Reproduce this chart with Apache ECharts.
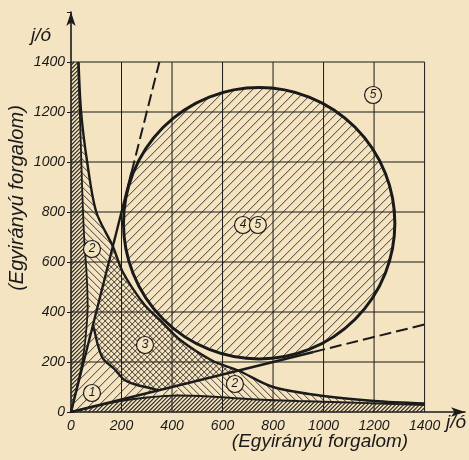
<!DOCTYPE html>
<html><head><meta charset="utf-8">
<script src="https://cdn.jsdelivr.net/npm/echarts@6/dist/echarts.min.js"></script>
<style>html,body{margin:0;background:#f4e4c1}#c{width:469px;height:460px}</style>
</head><body><div id="c"></div>
<script>
// ---- data (j/ó, both axes) ----
const xTicks = [0, 200, 400, 600, 800, 1000, 1200, 1400];
const yTicks = [0, 200, 400, 600, 800, 1000, 1200, 1400];

// big circle (zone 4-5): centre x, centre y, radius
const circleData = [[745, 755, 540]];

// outer boundary curve of zone 2 / zone 3
const hOuter = [[30,1400],[40,1200],[64,1000],[100,800],[166,662],[205,560],[290,430],[360,360],
                [430,290],[560,205],[662,166],[800,100],[1000,64],[1200,44],[1400,34]];
// inner curve (zone 1 / zone 3)
const innerCurve = [[87,348],[95,316],[108,262],[128,212],[172,172],[212,128],[262,108],[316,95],[348,87]];
// straight rays from the origin
const steepSolid = [[0,0],[240,960]];
const steepDashed = [[240,960],[350,1400]];
const flatSolid = [[0,0],[960,240]];
const flatDashed = [[960,240],[1400,350]];
// narrow strips along the axes
const stripLeft = [[0,0],[12,50],[28,120],[45,200],[58,300],[66,420],[62,550],[52,700],[44,900],[38,1100],[33,1250],[28,1400]];
const stripBottom = [[0,0],[50,12],[120,28],[200,45],[300,58],[420,66],[550,62],[700,52],[900,44],[1100,38],[1250,33],[1400,28]];
// zone outlines (disjoint)
const zone1 = stripLeft.slice(0,6).concat([[105,420]], innerCurve, [[420,105]], stripBottom.slice(0,6).reverse());
const zone2Left = [[105,420]].concat(hOuter.slice(0,5).reverse(), stripLeft.slice(5).reverse());
const zone2Bottom = [[420,105]].concat(hOuter.slice(10), stripBottom.slice(5).reverse());
const zone3 = [[87,348]].concat(hOuter.slice(4,11), innerCurve.slice().reverse());
const zoneStripLeft = stripLeft.concat([[0,1400]]);
const zoneStripBottom = stripBottom.concat([[1400,0]]);

// circled zone numbers
const zoneLabels = [
  {name:'5', value:[1196,1268]},
  {name:'4', value:[681,748]},
  {name:'5', value:[740,748]},
  {name:'2', value:[83,652]},
  {name:'3', value:[293,268]},
  {name:'1', value:[83,76]},
  {name:'2', value:[649,112]}
];

// ---- styling helpers ----
const BG = '#f4e4c1', INK = '#1a1a1a', HATCH = '#2d2823';
const F = "'Liberation Sans','DejaVu Sans',sans-serif";

// hatch a pixel-space polygon with diagonal line segments ('/' and/or '\')
function hatchGroup(pts, sp, dirs, lw, z2, withFill) {
  const children = withFill ? [{type:'polygon', z2:z2, shape:{points:pts}, style:{fill:BG, stroke:null}}] : [];
  dirs.split('').forEach(d => {
    const f = d === '/' ? (p => p[0] + p[1]) : (p => p[0] - p[1]);
    let mn = Infinity, mx = -Infinity;
    pts.forEach(p => { const v = f(p); if (v < mn) mn = v; if (v > mx) mx = v; });
    for (let c = Math.ceil(mn / sp) * sp + 0.25; c < mx; c += sp) {
      const xs = [];
      for (let i = 0; i < pts.length; i++) {
        const a = pts[i], b = pts[(i + 1) % pts.length];
        const fa = f(a) - c, fb = f(b) - c;
        if ((fa < 0) !== (fb < 0)) { const t = fa / (fa - fb); xs.push([a[0] + t * (b[0] - a[0]), a[1] + t * (b[1] - a[1])]); }
      }
      xs.sort((p, q) => p[0] - q[0]);
      for (let k = 0; k + 1 < xs.length; k += 2)
        children.push({type:'line', z2:z2 + 1, shape:{x1:xs[k][0], y1:xs[k][1], x2:xs[k+1][0], y2:xs[k+1][1]},
          style:{stroke:HATCH, lineWidth:lw}});
    }
  });
  return {type:'group', children:children};
}

const regionPolys = [zone1, zone2Left, zone2Bottom, zone3, zoneStripLeft, zoneStripBottom];
const regionHatch = [[9,'/',0.9],[7,'\\',0.9],[7,'\\',0.9],[6,'/\\',0.9],[4,'/',1.1],[4,'/',1.1]];

function curve(data, w, dashed) {
  return {type:'line', data:data, symbol:'none', smooth:0.3, z:4, silent:true,
    lineStyle:{color:INK, width:w, type: dashed ? [12,5] : 'solid'}};
}

const chart = echarts.init(document.getElementById('c'));
chart.setOption({
  backgroundColor: BG, animation:false,
  grid:{left:71, right:4, top:12, bottom:48},
  xAxis:{type:'value', min:0, max:1560, interval:200,
    axisLine:{show:true, symbol:['none','arrow'], symbolSize:[7,14], lineStyle:{color:INK, width:1.6}},
    axisTick:{show:false}, splitLine:{show:false},
    axisLabel:{formatter:v => xTicks.indexOf(v) >= 0 ? String(v) : '', fontFamily:F, fontStyle:'italic', fontSize:14, color:INK, margin:7}},
  yAxis:{type:'value', min:0, max:1600, interval:200,
    axisLine:{show:true, symbol:['none','arrow'], symbolSize:[7,14], lineStyle:{color:INK, width:1.6}},
    axisTick:{show:true, length:4, lineStyle:{color:INK}}, splitLine:{show:false},
    axisLabel:{formatter:v => yTicks.indexOf(v) >= 0 ? String(v) : '', fontFamily:F, fontStyle:'italic', fontSize:14, color:INK, margin:6}},
  graphic:[
    {type:'text', left:31, top:26, style:{text:'j/ó', font:'italic 19px ' + F, fill:INK}},
    {type:'text', left:446, top:413, style:{text:'j/ó', font:'italic 19px ' + F, fill:INK}},
    {type:'text', x:320, y:442, style:{text:'(Egyirányú forgalom)', font:'italic 19px ' + F, fill:INK, textAlign:'center', textVerticalAlign:'middle'}},
    {type:'text', x:17, y:198, rotation:Math.PI/2, style:{text:'(Egyirányú forgalom)', font:'italic 20px ' + F, fill:INK, textAlign:'center', textVerticalAlign:'middle'}}
  ],
  series:[
    {type:'custom', coordinateSystem:'cartesian2d', z:2, silent:true, data:circleData, encode:{x:0, y:1},
      renderItem:(p, api) => {
        const c = api.coord([api.value(0), api.value(1)]);
        const s = api.size([api.value(2), api.value(2)]);
        const r = (s[0] + s[1]) / 2, ring = [];
        for (let k = 0; k < 120; k++) { const a = k / 120 * 2 * Math.PI; ring.push([c[0] + r * Math.cos(a), c[1] + r * Math.sin(a)]); }
        const g = hatchGroup(ring, 9, '/', 0.9, 0, true);
        g.children.push({type:'circle', z2:5, shape:{cx:c[0], cy:c[1], r:r}, style:{fill:null, stroke:INK, lineWidth:3}});
        return g;
      }},
    {type:'custom', coordinateSystem:'cartesian2d', z:3, silent:true,
      data: xTicks.slice(1).map(v => [v, 0]), encode:{x:0, y:1},
      renderItem:(p, api) => {
        const a = api.coord([api.value(0), 0]), b = api.coord([api.value(0), yTicks[yTicks.length-1]]);
        return {type:'line', shape:{x1:a[0], y1:a[1], x2:b[0], y2:b[1]}, style:{stroke:INK, lineWidth:1}};
      }},
    {type:'custom', coordinateSystem:'cartesian2d', z:3, silent:true,
      data: yTicks.slice(1).map(v => [0, v]), encode:{x:0, y:1},
      renderItem:(p, api) => {
        const a = api.coord([0, api.value(1)]), b = api.coord([xTicks[xTicks.length-1], api.value(1)]);
        return {type:'line', shape:{x1:a[0], y1:a[1], x2:b[0], y2:b[1]}, style:{stroke:INK, lineWidth:1}};
      }},
    curve(hOuter, 2.4),
    curve(innerCurve, 2.4),
    curve(stripLeft, 1.8),
    curve(stripBottom, 1.8),
    curve(steepSolid, 2.4),
    curve(steepDashed, 2, true),
    curve(flatSolid, 2.4),
    curve(flatDashed, 2, true),
    {type:'custom', coordinateSystem:'cartesian2d', z:5, silent:true,
      data: regionPolys.map(() => [0, 0]), encode:{x:0, y:1},
      renderItem:(p, api) => {
        const i = p.dataIndex, h = regionHatch[i];
        return hatchGroup(regionPolys[i].map(pt => api.coord(pt)), h[0], h[1], h[2], i * 2, false);
      }},
    {type:'scatter', z:6, silent:true, data:zoneLabels, symbol:'circle', symbolSize:17,
      itemStyle:{color:BG, borderColor:INK, borderWidth:1.2, opacity:1},
      label:{show:true, position:'inside', formatter:'{b}', fontFamily:F, fontStyle:'italic', fontSize:12, color:INK}}
  ]
});
</script></body></html>
